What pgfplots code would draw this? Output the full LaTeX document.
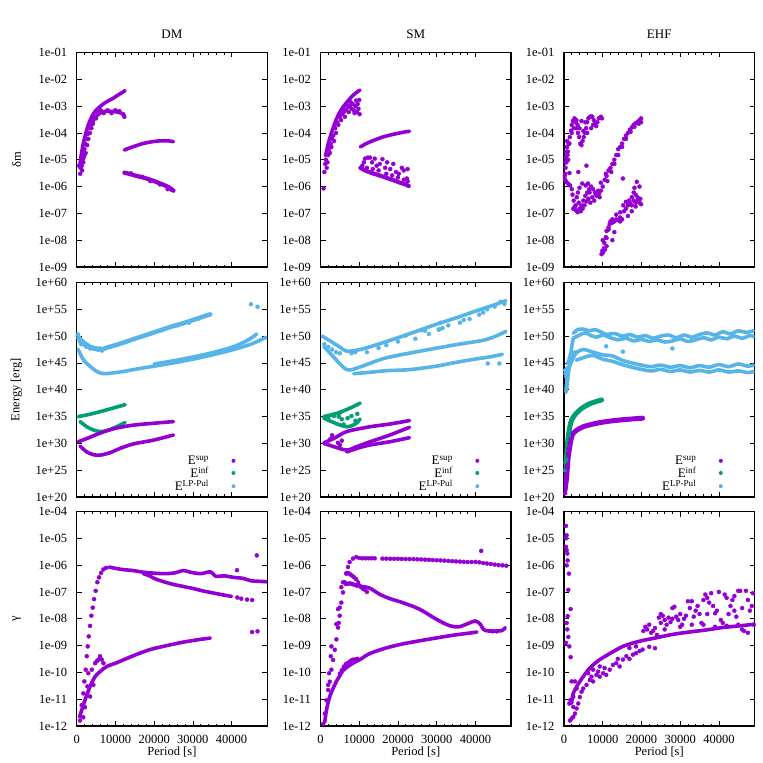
\documentclass[border=0pt]{standalone}
\usepackage{fontspec}
\setmainfont{Liberation Serif}
\usepackage{pgfplots}
\pgfplotsset{compat=1.18}
\definecolor{pur}{HTML}{9400D3}
\definecolor{grn}{HTML}{009E73}
\definecolor{blu}{HTML}{56B4E9}
\pgfplotsset{
  mybase/.style={scale only axis, width=190.5pt, height=214.5pt, xmin=0, xmax=49200,
    scaled x ticks=false, scaled y ticks=false,
    xtick={0,10000,20000,30000,40000}, minor x tick num=4, yminorticks=false,
    tick align=inside, tick pos=both, axis line style={line width=1.2pt},
    major tick length=5pt, minor tick length=2.5pt, every tick/.style={black, line width=0.6pt},
    xticklabels={},
    yticklabel style={inner sep=0pt, xshift=-9.5pt, font=\fontsize{12.5}{12.5}\selectfont},
    xticklabel style={inner sep=0pt, yshift=-9pt, font=\fontsize{12.5}{12.5}\selectfont},
    ylabel style={at={(axis description cs:-0.316,0.5)}, anchor=center, font=\fontsize{12.5}{12.5}\selectfont},
    xlabel style={at={(axis description cs:0.5,-0.121)}, anchor=center, font=\fontsize{12.5}{12.5}\selectfont},
    title style={at={(0.5,1)}, anchor=south, inner sep=0pt, yshift=8pt, font=\fontsize{13}{13}\selectfont},
  },
  rowdm/.style={ymin=1e-9, ymax=1e-1, ytick={1e-9,1e-8,1e-7,1e-6,1e-5,1e-4,1e-3,1e-2,1e-1},
    yticklabels={1e-09,1e-08,1e-07,1e-06,1e-05,1e-04,1e-03,1e-02,1e-01}},
  rowen/.style={ymin=1e20, ymax=1e60, ytick={1e20,1e25,1e30,1e35,1e40,1e45,1e50,1e55,1e60},
    yticklabels={1e+20,1e+25,1e+30,1e+35,1e+40,1e+45,1e+50,1e+55,1e+60},
    legend plot pos=right, legend cell align=right,
    legend style={at={(1,0)}, anchor=south east, xshift=-31.5pt, yshift=4pt, draw=none, fill=none,
      inner sep=0pt, row sep=0pt, nodes={inner sep=0.5pt}, font=\fontsize{13}{13}\selectfont}},
  rowga/.style={ymin=1e-12, ymax=1e-4, ytick={1e-12,1e-11,1e-10,1e-9,1e-8,1e-7,1e-6,1e-5,1e-4},
    yticklabels={1e-12,1e-11,1e-10,1e-09,1e-08,1e-07,1e-06,1e-05,1e-04},
    xticklabels={0,10000,20000,30000,40000}, xlabel={Period [s]}},
  mydots/.style={only marks, mark=*, mark size=2pt, mark options={draw=none}, forget plot},
  mycurve/.style={no markers, line width=3.6pt, line cap=round, line join=round, smooth, forget plot},
  legdot/.style={legend image code/.code={\path[draw=none, fill=none] (0pt,-2pt) rectangle (26pt,2pt); \path[draw=none, fill] (24pt,0pt) circle (2pt);}},
}
\begin{document}
\begin{tikzpicture}
\path[use as bounding box] (0,0) rectangle (763pt,763pt);
% ---------------- Row 1 : delta m ----------------
\begin{axis}[ymode=log, mybase, rowdm, at={(76.7pt,496pt)}, anchor=south west, title={DM}, ylabel={δm}]
\addplot[mycurve, pur] coordinates {(860,7e-6)(1200,1.6e-5)(1700,4e-5)(2100,7e-5)(2600,1.3e-4)(3200,2.4e-4)(3900,4e-4)(4800,6.5e-4)(6000,9.5e-4)(7200,1.3e-3)(8600,1.7e-3)(9500,2e-3)(10300,2.4e-3)(11400,3e-3)(12500,3.8e-3)};
\addplot[mycurve, pur] coordinates {(4000,2.5e-4)(4800,3.8e-4)(5500,4.8e-4)(6500,6e-4)(7500,6.5e-4)(8500,6.3e-4)(9500,6.3e-4)(10500,6e-4)(11500,5.5e-4)(12300,4.6e-4)};
\addplot[mydots, pur] coordinates {(600,6e-6)(900,3e-6)(1000,5e-6)(1100,8e-6)(1300,6e-6)(1500,1e-5)(1600,2e-5)(1800,1.2e-5)(2000,2.5e-5)(2200,4e-5)(2300,1.8e-5)(2500,6e-5)(2700,3.5e-5)(2800,9e-5)(3000,6e-5)(3200,1.5e-4)(3400,1e-4)(3600,2e-4)(3800,1.5e-4)(4000,3e-4)(4200,2.2e-4)(4500,4e-4)(5000,3.5e-4)(1400,4e-6)(1700,8e-6)(2000,1.5e-5)(5500,6e-4)(6200,7e-4)(7000,5.5e-4)(8000,7e-4)(9000,5.5e-4)(10000,7e-4)(11000,6.5e-4)(12000,5e-4)(12300,4e-4)};
\addplot[mycurve, pur] coordinates {(12300,2.3e-5)(13500,2.7e-5)(15000,3.2e-5)(16500,3.8e-5)(18000,4.3e-5)(19500,4.7e-5)(21000,5e-5)(22500,5.1e-5)(24000,5e-5)(25000,4.7e-5)};
\addplot[mycurve, pur, line width=4.2pt] coordinates {(12300,3.3e-6)(13500,3e-6)(15000,2.6e-6)(16500,2.3e-6)(18000,2e-6)(19500,1.7e-6)(21000,1.4e-6)(22500,1.15e-6)(24000,9e-7)(25000,7e-7)};
\addplot[mydots, pur] coordinates {(23500,8e-7)(24500,7.5e-7)(21500,1.2e-6)(19000,1.6e-6)(17000,2.3e-6)(14000,3.1e-6)};
\end{axis}
\begin{axis}[ymode=log, mybase, rowdm, at={(320.5pt,496pt)}, anchor=south west, title={SM}]
\addplot[mycurve, pur] coordinates {(1300,1.4e-5)(2000,4e-5)(2500,7e-5)(3000,1.2e-4)(4000,3e-4)(5000,6e-4)(6000,1e-3)(7000,1.5e-3)(8000,2.2e-3)(9000,3e-3)(10200,4e-3)};
\addplot[mydots, pur] coordinates {(1000,3.5e-6)(1200,7e-6)(1400,1e-5)(1600,5e-6)(1800,8e-6)(2000,1.5e-5)(2200,2.5e-5)(2400,1.8e-5)(2600,4e-5)(2800,3e-5)(3000,6e-5)(3300,8e-5)(3500,5e-5)(3800,1.5e-4)(4000,1e-4)(4300,2.5e-4)(4600,2e-4)(5000,4e-4)(5300,3e-4)(5600,5e-4)(6000,6e-4)(6300,4e-4)(6600,7e-4)(7000,9e-4)(7300,6e-4)(7600,1e-3)(8000,8e-4)(8300,1.2e-3)(8600,7e-4)(9000,1e-3)(9200,1.6e-3)(9400,6e-4)(9600,1.2e-3)(9800,8e-4)(10000,1.7e-3)(10100,5e-4)(8800,5.5e-4)(7800,1.4e-3)(6800,1.1e-3)(5800,8e-4)(800,8.5e-7)};
\addplot[mycurve, pur] coordinates {(10300,3e-5)(11500,3.8e-5)(13000,4.8e-5)(14500,5.8e-5)(16000,7e-5)(17500,8e-5)(19000,9e-5)(20500,1e-4)(22000,1.1e-4)(23000,1.15e-4)};
\addplot[mycurve, pur, line width=4.2pt] coordinates {(10300,5e-6)(11500,4e-6)(13000,3.3e-6)(14500,2.8e-6)(16000,2.4e-6)(17500,2e-6)(19000,1.7e-6)(20500,1.4e-6)(22000,1.2e-6)(22800,1.05e-6)};
\addplot[mydots, pur] coordinates {(11500,1.1e-5)(12200,1.2e-5)(12800,1.2e-5)(13300,8e-6)(14000,1.1e-5)(14500,6e-6)(15300,7e-6)(16000,1.05e-5)(16700,5e-6)(17200,8e-6)(18000,4.5e-6)(18800,7e-6)(19500,3.5e-6)(20200,3e-6)(21000,5e-6)(21500,4e-6)(22500,4.5e-6)(22300,2e-6)(10800,6e-6)(11200,8e-6)(12000,5e-6)(13500,4.5e-6)(15000,4e-6)(17000,3e-6)(18500,2.6e-6)(20000,2.2e-6)(21500,1.8e-6)(22500,1.6e-6)};
\end{axis}
\begin{axis}[ymode=log, mybase, rowdm, at={(564pt,496pt)}, anchor=south west, title={EHF}]
\addplot[mydots, pur] coordinates {(300,1.8e-6)(300,3e-6)(400,5e-6)(400,8e-6)(500,1.2e-5)(600,2e-5)(700,3e-5)(800,5e-5)(1000,2e-5)(1200,4e-5)(1500,7e-5)(1800,1.2e-4)(2000,2e-4)(2300,2.8e-4)(2700,3.5e-4)(3000,2.5e-4)(3300,1.5e-4)(3600,1e-4)(3900,7e-5)(4200,4e-5)(4500,3.5e-5)(4800,5e-5)(5100,7e-5)(5400,1e-4)(5700,1.5e-4)(6000,2.5e-4)(6300,3.5e-4)(6700,4e-4)(7000,4.2e-4)(7300,4e-4)(7700,3e-4)(8000,2.2e-4)(8300,1.8e-4)(8600,2.5e-4)(9000,3.5e-4)(9500,4e-4)(9800,3.5e-4)(2500,1.5e-4)(3500,2e-4)(4000,1.5e-4)(5000,1.2e-4)(6000,1e-4)(7000,1.5e-4)(7500,2e-4)(5500,2.5e-4)(4500,2.8e-4)(3200,3e-4)(2000,1e-4)(1400,4e-5)(900,1.5e-5)(600,8e-6)(200,2.5e-6)(1100,1e-5)(800,3e-5)(1400,3.2e-6)(3700,3.5e-6)(5800,6e-6)(15200,2e-6)};
\addplot[mydots, pur] coordinates {(600,1.5e-6)(1000,1.3e-6)(1600,1.1e-6)(2000,8e-7)(2200,5e-7)(2500,3e-7)(2800,1.8e-7)(3100,1.3e-7)(3500,1.1e-7)(4000,1.5e-7)(4500,2e-7)(5000,3e-7)(5500,4.5e-7)(6000,6e-7)(6500,8e-7)(7000,1e-6)(7500,8e-7)(8000,6e-7)(8500,4.5e-7)(9000,5.5e-7)(9500,7e-7)(2400,1.5e-7)(3000,2e-7)(3300,4e-7)(3800,2.5e-7)(4300,1.2e-7)(4800,1.5e-7)(5300,2e-7)(5800,2.8e-7)(6300,3.5e-7)(6800,2.5e-7)(7300,4e-7)(7800,3e-7)(8200,5e-7)(8800,7e-7)(9200,4e-7)(4000,9e-7)(4700,1.3e-6)(5600,1.1e-6)(6200,1.3e-6)(6600,6e-7)(3600,6e-7)};
\addplot[mydots, pur] coordinates {(9500,1.4e-6)(10500,1.8e-6)(11000,2.5e-6)(11500,4e-6)(12000,5e-6)(12500,7e-6)(13000,1e-5)(13500,1.5e-5)(14000,2.5e-5)(14500,3e-5)(15000,4e-5)(15500,6e-5)(16000,8e-5)(16500,1e-4)(17000,1.3e-4)(17500,1.6e-4)(18000,2e-4)(18500,2.3e-4)(19000,2.6e-4)(19500,3e-4)(19900,3.5e-4)(19900,2.5e-4)(19300,2.2e-4)(18200,1.7e-4)(17200,1.1e-4)(16000,6e-5)(15000,3e-5)(14000,1.5e-5)(13000,7e-6)(12200,3.5e-6)(10800,3e-6)(10000,1e-6)(11200,1.6e-6)};
\addplot[mydots, pur] coordinates {(9700,3e-9)(9900,4e-9)(10100,3.5e-9)(10300,5e-9)(10600,4.5e-9)(11000,6e-9)(10400,8e-9)(10800,1.3e-8)(11500,2.5e-8)(11000,2.2e-8)(11800,4e-8)(12000,5e-8)(12500,4.5e-8)(13000,5e-8)(13500,6e-8)(14000,5.5e-8)(14500,7e-8)(15000,6e-8)(15500,1.2e-7)(16000,1.5e-7)(16500,2e-7)(17000,2.5e-7)(17500,2e-7)(18000,3e-7)(18500,2.5e-7)(19000,3e-7)(19500,2.5e-7)(19900,2.2e-7)(19700,3.5e-7)(19000,4e-7)(18500,5e-7)(18000,6e-7)(19500,1e-6)(18800,1.5e-6)(18200,9e-7)(17500,4e-7)(16800,3e-7)(16000,2.7e-7)(15300,2e-7)(14500,1.1e-7)(13500,9e-8)(12500,6e-8)(11500,3e-8)(11000,1.2e-8)(10000,1e-8)(12500,1e-8)(13000,2e-8)(14500,5e-8)(16500,8e-8)(17500,1.2e-7)(18500,1.8e-7)};
\end{axis}
% ---------------- Row 2 : Energy ----------------
\begin{axis}[ymode=log, mybase, rowen, at={(76.7pt,266pt)}, anchor=south west, ylabel={Energy [erg]}]
\addplot[mycurve, blu, line width=4.5pt] coordinates {(200,1e50)(1000,2e49)(2000,5e48)(3000,1.6e48)(4000,6.3e47)(5000,4e47)(6000,3.2e47)(7000,4e47)(8000,8e47)(10000,2e48)(12500,7.9e48)(15000,3.2e49)(17500,1.26e50)(20000,5e50)(22500,2e51)(25000,7.9e51)(27500,2.5e52)(30000,1e53)(32500,4e53)(34500,1.15e54)};
\addplot[mydots, blu] coordinates {(500,4e49)(800,1e49)(1200,3e48)(1500,5e48)(2000,2e48)(2500,1e48)(3000,1.5e48)(3500,5e47)(4000,8e47)(4500,4e47)(5000,6e47)(5500,3e47)(6000,5e47)(6500,2e47)(300,2e50)(600,6e49)(45000,8.7e55)(46700,3e55)(22000,1.26e51)(26000,1e52)(29000,3.2e52)(31500,2e53)};
\addplot[mycurve, blu] coordinates {(400,3.2e47)(1700,4e45)(3400,2.5e44)(5200,2.5e43)(6900,1e43)(9000,1.26e43)(12000,2.5e43)(15000,6.3e43)(20000,2.5e44)(25000,1e45)(30000,5e45)(35000,3.2e46)(40000,2.5e47)(45000,3.2e48)(49000,6.3e49)};
\addplot[mycurve, blu] coordinates {(20000,6.3e44)(25000,2.5e45)(30000,1.26e46)(35000,7.9e46)(40000,7.9e47)(43000,6.3e48)(45000,4e49)(46500,2.5e50)};
\addplot[mycurve, grn] coordinates {(400,1e35)(2600,2e35)(6000,7.9e35)(9500,4e36)(12500,1.6e37)};
\addplot[mycurve, grn] coordinates {(860,1.15e34)(2600,1.26e33)(4300,3.2e32)(6000,1.6e32)(7800,2.5e32)(10300,1.26e33)(12500,7.9e33)};
\addplot[mycurve, pur] coordinates {(400,2e30)(2600,7.9e30)(6000,7.9e31)(9900,6.3e32)(14650,2.5e33)(19800,5.6e33)(25000,1.15e34)};
\addplot[mycurve, pur] coordinates {(860,3.2e29)(2600,2.5e28)(4300,7.9e27)(6000,6.3e27)(8600,1.8e28)(11200,1.15e29)(14650,7.9e29)(19800,4e30)(25000,3.6e31)};
\addlegendimage{legdot, pur}
\addlegendentry{E\textsuperscript{sup}}
\addlegendimage{legdot, grn}
\addlegendentry{E\textsuperscript{inf}}
\addlegendimage{legdot, blu}
\addlegendentry{E\textsuperscript{LP-Pul}}
\end{axis}
\begin{axis}[ymode=log, mybase, rowen, at={(320.5pt,266pt)}, anchor=south west]
\addplot[mycurve, blu] coordinates {(430,1e50)(2560,1.15e49)(4700,1.26e48)(6800,1.6e47)(10250,3.2e47)(14500,2.5e48)(20000,5e49)(24800,7.9e50)(29900,1.6e52)(35000,2.5e53)(40200,5e54)(43600,3.2e55)(47900,4e56)};
\addplot[mydots, blu] coordinates {(3000,3.2e47)(4000,1e47)(5000,6.3e46)(2000,1e48)(1000,3.2e48)(8000,6.3e46)(9000,1e47)(12000,1e47)(15000,6.3e47)(17000,2e48)(20000,1e49)(22000,1.26e50)(24500,3.2e49)(27000,1e51)(28000,2.5e50)(30500,1.6e51)(33000,1e52)(36000,3.2e52)(38500,1.6e53)(41000,1e54)(43000,1e55)(45000,3.2e55)(46500,2.5e56)(47500,1e56)(26000,1.26e51)(31000,3.2e52)(37000,1e53)(42000,2.5e54)(30700,1.8e51)(31500,3e51)};
\addplot[mycurve, blu] coordinates {(850,1.26e48)(3400,1.26e46)(6800,5.6e43)(10250,1.8e44)(16700,7.9e45)(26500,2e47)(35000,2.5e48)(41900,1.6e49)(45300,1e50)(47900,7.9e50)};
\addplot[mycurve, blu] coordinates {(8550,1e43)(12800,1.8e43)(17100,3.6e43)(23000,5.6e43)(29900,2.5e44)(35000,1.26e45)(40200,5.6e45)(43600,1.26e46)(47000,4e46)};
\addplot[mydots, blu] coordinates {(43200,7.9e44)(46200,7.9e44)};
\addplot[mycurve, grn] coordinates {(850,1e35)(4270,4e35)(7700,4e36)(10250,3.2e37)};
\addplot[mycurve, grn] coordinates {(850,5e34)(3850,5.6e33)(6800,1.26e33)(8970,4e33)(10250,3.6e34)};
\addplot[mydots, grn] coordinates {(4700,1e35)(3000,2e35)(5500,3.2e34)(7000,5e34)(8000,1.26e35)(9500,3.2e35)(2000,5e34)(6000,3.2e33)(9000,1.6e34)(3500,1.26e35)(5000,5e35)};
\addplot[mycurve, pur] coordinates {(850,1.26e30)(3400,7.9e30)(6800,1.6e32)(12800,1.26e33)(17900,4e33)(23000,1.8e34)};
\addplot[mycurve, pur] coordinates {(850,1e30)(3400,2.5e29)(6800,5.6e28)(9400,2.5e29)(12800,2e30)(17900,3.6e31)(23000,1e33)};
\addplot[mycurve, pur] coordinates {(6800,2.5e28)(9400,1.15e29)(12800,5e29)(17900,2e30)(23000,1.15e31)};
\addplot[mydots, pur] coordinates {(3000,3.2e31)(4500,1.26e30)(5000,5e29)(2500,6.3e30)(5500,3.2e30)};
\addlegendimage{legdot, pur}
\addlegendentry{E\textsuperscript{sup}}
\addlegendimage{legdot, grn}
\addlegendentry{E\textsuperscript{inf}}
\addlegendimage{legdot, blu}
\addlegendentry{E\textsuperscript{LP-Pul}}
\end{axis}
\begin{axis}[ymode=log, mybase, rowen, at={(564pt,266pt)}, anchor=south west]
\addplot[mycurve, blu] coordinates {(500,3.2e39)(700,3.2e40)(900,6.3e41)(1200,3.2e43)(1500,1e45)(1800,1e47)(2100,3.2e48)(2400,4e49)};
\addplot[mycurve, blu] coordinates {(2400,3.2e50)(3500,1.6e51)(5000,2e51)(6500,1e51)(8000,1.6e51)(9500,6.3e50)(11000,2e50)(13000,3.2e50)(15000,1e50)(17000,2e50)(19000,6.3e49)(21000,1.26e50)(23000,4e49)(25000,1e50)(27000,1.6e50)(29000,5e49)(31000,1.6e50)(33000,6.3e49)(35000,2e50)(37000,4e50)(39000,1.6e50)(41000,6.3e50)(43000,2.5e50)(45000,1e51)(47000,5e50)(49000,1e51)};
\addplot[mycurve, blu] coordinates {(2400,4e49)(4000,1.6e50)(5500,4e50)(7000,1.26e50)(8500,6.3e49)(10000,1.6e50)(12000,5e49)(14000,2e49)(16000,4e49)(18000,1.26e49)(20000,2.5e49)(22000,1e49)(24000,2e49)(26000,7.9e48)(28000,1.26e49)(30000,3.2e49)(32000,1e49)(34000,2e49)(36000,5e49)(38000,2e49)(40000,6.3e49)(42000,3.2e49)(44000,1e50)(46000,4e49)(48000,1.26e50)(49000,7.9e49)};
\addplot[mycurve, blu] coordinates {(1100,6.3e43)(2000,2e45)(3200,7.9e46)(5000,3.2e47)(7500,1e47)(10000,3.2e46)(12500,2e46)(15000,3.2e45)(17500,1e45)(20000,4e44)(22500,2e44)(25000,4e44)(27500,1.6e44)(30000,3.2e44)(32500,1.26e44)(35000,3.2e44)(37500,1.6e44)(40000,5e44)(42500,2e44)(45000,6.3e44)(47500,2.5e44)(49000,4e44)};
\addplot[mycurve, blu] coordinates {(3200,3.2e45)(5000,1e46)(7500,2.5e46)(10000,5e45)(12500,2e45)(15000,5e44)(17500,1.6e44)(20000,6.3e43)(22500,3.2e43)(25000,6.3e43)(27500,2.5e43)(30000,5e43)(32500,2e43)(35000,4e43)(37500,2e43)(40000,5e43)(42500,2e43)(45000,3.2e43)(47500,1.6e43)(49000,2.5e43)};
\addplot[mydots, blu] coordinates {(300,4e43)(400,1e43)(600,3e42)(800,1e44)(1000,1e45)(1300,3e45)(1500,1e46)(1700,3e46)(2000,1e47)(2500,3e46)(3000,1e47)(800,4e41)(700,8e40)(600,2e40)(900,1e42)(10900,1.26e48)(15200,1.26e47)(28000,5e47)};
\addplot[mycurve, grn, line width=5pt] coordinates {(260,1e25)(680,3.2e27)(1100,1.8e31)(2000,2.5e34)(4100,1.8e36)(6700,2.5e37)(9700,1.26e38)};
\addplot[mydots, grn] coordinates {(250,1e25)(350,3e26)(500,1e27)(700,1e28)(800,1e29)(1000,1e30)(1300,3e31)};
\addplot[mycurve, pur, line width=5pt] coordinates {(260,1.8e21)(680,5.6e23)(1100,3.2e27)(2000,1.8e31)(3000,2e32)(5000,1.26e33)(7500,4e33)(10900,1.15e34)(15000,2.5e34)(20300,5e34)};
\addplot[mydots, pur] coordinates {(300,5e20)(400,1e22)(500,1e23)(600,1e24)(700,3e25)(900,1e26)(1000,1e28)(1200,1e29)(1500,1e30)};
\addlegendimage{legdot, pur}
\addlegendentry{E\textsuperscript{sup}}
\addlegendimage{legdot, grn}
\addlegendentry{E\textsuperscript{inf}}
\addlegendimage{legdot, blu}
\addlegendentry{E\textsuperscript{LP-Pul}}
\end{axis}
% ---------------- Row 3 : gamma ----------------
\begin{axis}[ymode=log, mybase, rowga, at={(76.7pt,37pt)}, anchor=south west, ylabel={γ}]
\addplot[mydots, pur] coordinates {(860,2.3e-12)(1290,6e-12)(1720,1.65e-11)(1980,4.6e-11)(2330,1.26e-10)(2590,4e-10)(2840,9.3e-10)(3100,2.2e-9)(3450,5.4e-9)(3790,1.3e-8)(4140,2.6e-8)(4480,5.4e-8)(4910,1.1e-7)(5340,2.3e-7)(5780,3.5e-7)(6290,5.1e-7)(6900,6.9e-7)(7590,7.9e-7)};
\addplot[mycurve, pur] coordinates {(8300,8.5e-7)(10000,7.6e-7)(12000,6.8e-7)(14500,6.3e-7)(17000,5.5e-7)(20000,5e-7)(23000,4.8e-7)(25500,5.2e-7)(27500,6.3e-7)(29500,5.4e-7)(32000,4.8e-7)(34500,5.6e-7)(36000,3.8e-7)(38000,4e-7)(40500,3.5e-7)(43000,3.2e-7)(45000,2.6e-7)(47000,2.5e-7)(49000,2.4e-7)};
\addplot[mycurve, pur] coordinates {(17200,4.8e-7)(18800,4e-7)(20000,3.2e-7)(22500,2.4e-7)(25000,1.9e-7)(27500,1.6e-7)(30000,1.35e-7)(32500,1.1e-7)(35000,9.3e-8)(37500,7.9e-8)(40000,6.8e-8)};
\addplot[mydots, pur] coordinates {(41500,6.2e-8)(42500,5.6e-8)(44000,5.2e-8)(45300,5e-8)};
\addplot[mycurve, pur] coordinates {(860,2.5e-12)(2150,9.3e-12)(3450,3e-11)(4740,6.9e-11)(6030,1.07e-10)(7760,1.66e-10)(10350,2.3e-10)(14650,4.2e-10)(18960,7.1e-10)(23300,1e-9)(27600,1.35e-9)(31900,1.7e-9)(34500,1.9e-9)};
\addplot[mydots, pur] coordinates {(3000,9.3e-11)(3900,1.26e-10)(4740,2.2e-10)(5170,2.6e-10)(5600,3e-10)(6030,4e-10)(6470,3e-10)(6900,2.2e-10)(4300,3.4e-11)(3450,1.26e-11)(2760,3e-11)(860,1.6e-12)(1700,2.1e-12)(2150,5e-12)(41400,6.5e-7)(46500,2.3e-6)(45300,3.2e-9)(46700,3.4e-9)};
\end{axis}
\begin{axis}[ymode=log, mybase, rowga, at={(320.5pt,37pt)}, anchor=south west]
\addplot[mydots, pur] coordinates {(680,1.2e-12)(1110,2.9e-12)(1540,9.1e-12)(1970,2.2e-11)(2390,4.5e-11)(2820,1.26e-10)(3250,2.9e-10)(3680,7e-10)(4100,1.7e-9)(4530,4.7e-9)(4960,1.3e-8)(5380,4e-8)(5810,9.6e-8)(6240,2.3e-7)(6670,4.8e-7)(7090,8.5e-7)(7520,1.3e-6)(8380,1.75e-6)(4100,6.3e-9)(4530,2.3e-8)(4960,2.6e-8)(4700,7e-9)(2820,9.3e-10)(2650,4e-10)(2220,9.3e-11)(1970,3.4e-11)(5380,1.5e-7)(5810,2.3e-7)(41500,3.4e-6)};
\addplot[mydots, pur] coordinates {(9230,2e-6)(10000,1.85e-6)(10800,1.8e-6)(11600,1.8e-6)(12400,1.8e-6)(13200,1.8e-6)(14000,1.8e-6)(16000,1.75e-6)(17000,1.74e-6)(18000,1.73e-6)(19000,1.72e-6)(20000,1.72e-6)(21000,1.7e-6)(22000,1.69e-6)(23000,1.68e-6)(24000,1.67e-6)(25000,1.65e-6)(26000,1.63e-6)(27000,1.6e-6)(28000,1.58e-6)(29000,1.55e-6)(30000,1.52e-6)(31000,1.5e-6)(32000,1.47e-6)(33000,1.44e-6)(34000,1.41e-6)(35000,1.38e-6)(36000,1.35e-6)(37000,1.32e-6)(38000,1.3e-6)(39000,1.31e-6)(40000,1.32e-6)(41000,1.28e-6)(42000,1.2e-6)(43000,1.15e-6)(44000,1.1e-6)(45000,1.05e-6)(46000,1e-6)(47000,9.8e-7)(48000,9.5e-7)};
\addplot[mycurve, pur] coordinates {(9700,2.5e-7)(10100,1.7e-7)(12650,1.4e-7)(15200,8.3e-8)(17800,5.7e-8)(21200,4e-8)(25500,2.3e-8)(29700,1e-8)(33200,5.6e-9)(35700,5e-9)(38300,6.8e-9)(40000,8.3e-9)(41300,6.2e-9)(42100,4e-9)(43400,3.5e-9)(46800,3.6e-9)(47700,4.7e-9)};
\addplot[mydots, pur] coordinates {(6700,5e-7)(7200,5e-7)(7700,4.5e-7)(8200,4e-7)(8700,3.5e-7)(9200,3e-7)(6500,2e-7)(7000,2e-7)(7500,2.1e-7)(8000,2e-7)(8500,1.9e-7)(9000,1.8e-7)(9500,1.7e-7)(10500,1.5e-7)(11000,1.3e-7)(11500,1.2e-7)(12000,1e-7)(44500,3.4e-9)(45500,3.4e-9)};
\addplot[mycurve, pur] coordinates {(1100,1.4e-12)(1540,3.9e-12)(2390,1.26e-11)(3250,2.5e-11)(4100,4.6e-11)(4960,7.4e-11)(5810,1.17e-10)(7090,1.66e-10)(8380,2.2e-10)(10500,3.2e-10)(12650,5e-10)(16900,8.1e-10)(21200,1.15e-9)(25500,1.5e-9)(29700,1.9e-9)(34000,2.4e-9)(38300,2.9e-9)(40400,3.2e-9)};
\addplot[mydots, pur] coordinates {(6000,1.6e-10)(6500,2e-10)(7000,2.2e-10)(7500,2.5e-10)(8000,2.8e-10)(8500,3e-10)(9000,3e-10)(9500,3.2e-10)(5500,1.2e-10)(5000,9e-11)};
\end{axis}
\begin{axis}[ymode=log, mybase, rowga, at={(564pt,37pt)}, anchor=south west]
\addplot[mydots, pur] coordinates {(510,2.9e-5)(680,1.3e-5)(510,4.8e-6)(680,3.6e-6)(850,2.7e-6)(940,1.5e-6)(1280,4.8e-7)(1110,1.2e-7)(1710,2.3e-8)(680,7e-9)(850,4e-9)(1110,2.1e-9)(1370,9.3e-10)(1710,3.7e-10)(1970,4.6e-11)(2390,1.23e-11)(510,1e-5)(680,9.8e-7)(940,1.26e-8)(510,1.26e-9)};
\addplot[mycurve, pur] coordinates {(1970,6.9e-12)(2390,1.65e-11)(4100,4.6e-11)(6670,1.45e-10)(9230,3e-10)(10900,4.2e-10)(15200,9.3e-10)(19500,1.45e-9)(23800,1.95e-9)(28000,2.6e-9)(32300,3.2e-9)(36600,3.8e-9)(40900,4.7e-9)(45100,5.4e-9)(49000,6.2e-9)};
\addplot[mydots, pur] coordinates {(1540,1.6e-12)(1970,1.9e-12)(2390,2.2e-12)(2820,2.9e-12)(3250,4.5e-12)(1370,6.9e-12)(1710,9.3e-12)(2390,5.1e-12)(3680,6.9e-12)(4100,1.2e-11)(4530,1.9e-11)(4960,2.5e-11)(5810,3.4e-11)(6670,5.2e-11)(7090,6.9e-11)(7520,4.6e-11)(8380,8.1e-11)(8800,1.07e-10)(9230,6.9e-11)(10100,9.3e-11)(10500,1.45e-10)(10900,8.1e-11)(11800,1.26e-10)(12650,1.9e-10)(13500,2.2e-10)(13900,3.2e-10)(14360,1.66e-10)(15200,3e-10)(16100,4e-10)(16900,3.2e-10)(17800,4.6e-10)(18600,5.2e-10)(19500,6.2e-10)(20300,7.1e-10)(18600,9.3e-10)(16900,8.1e-10)(2820,4.6e-11)(3250,2.5e-11)(9230,1.66e-10)(7520,1.26e-10)(6240,9.3e-11)(22000,9e-10)(23500,8e-10)};
\addplot[mydots, pur] coordinates {(20500,3.5e-9)(21000,5e-9)(21500,4e-9)(22500,3e-9)(23500,4.5e-9)(24500,1.1e-8)(25000,7e-9)(25500,1.3e-8)(26000,9e-9)(26500,6e-9)(27000,1.1e-8)(27500,7.5e-9)(28000,2.5e-8)(28500,2.8e-8)(29000,1.2e-8)(29500,9e-9)(30000,1.5e-8)(30500,6e-9)(31000,1e-8)(31500,1.3e-8)(32000,4.5e-8)(32500,2.5e-8)(33000,4.5e-8)(33500,1.2e-8)(34000,2e-8)(34500,3e-8)(35000,1.5e-8)(35500,7e-9)(36000,5e-8)(36500,8e-8)(37000,6e-8)(37500,4e-8)(38000,9e-8)(38500,3e-8)(39000,1.6e-8)(39500,2e-8)(40000,1e-7)(40500,9e-9)(41000,7e-9)(41500,8e-8)(42000,6e-8)(42500,1.5e-8)(43000,3e-8)(43500,5e-8)(44000,2e-8)(44500,1.2e-8)(45000,1.1e-7)(45500,1.1e-7)(46000,4e-9)(46500,3.5e-9)(47000,1.1e-7)(47500,5e-8)(48000,2e-8)(48500,3e-8)(48800,9e-8)(49000,6e-9)(22000,6e-9)(23000,3.5e-9)(24000,2.5e-9)(26000,4e-9)(30000,5e-9)(33000,6e-9)(36000,6e-9)(39000,5e-9)(42000,5.5e-9)(45000,6e-9)(25000,1.5e-8)(28000,1e-8)(37000,1.5e-8)(44000,7e-8)(47500,3e-9)(46000,2.5e-8)};
\end{axis}
\end{tikzpicture}
\end{document}
